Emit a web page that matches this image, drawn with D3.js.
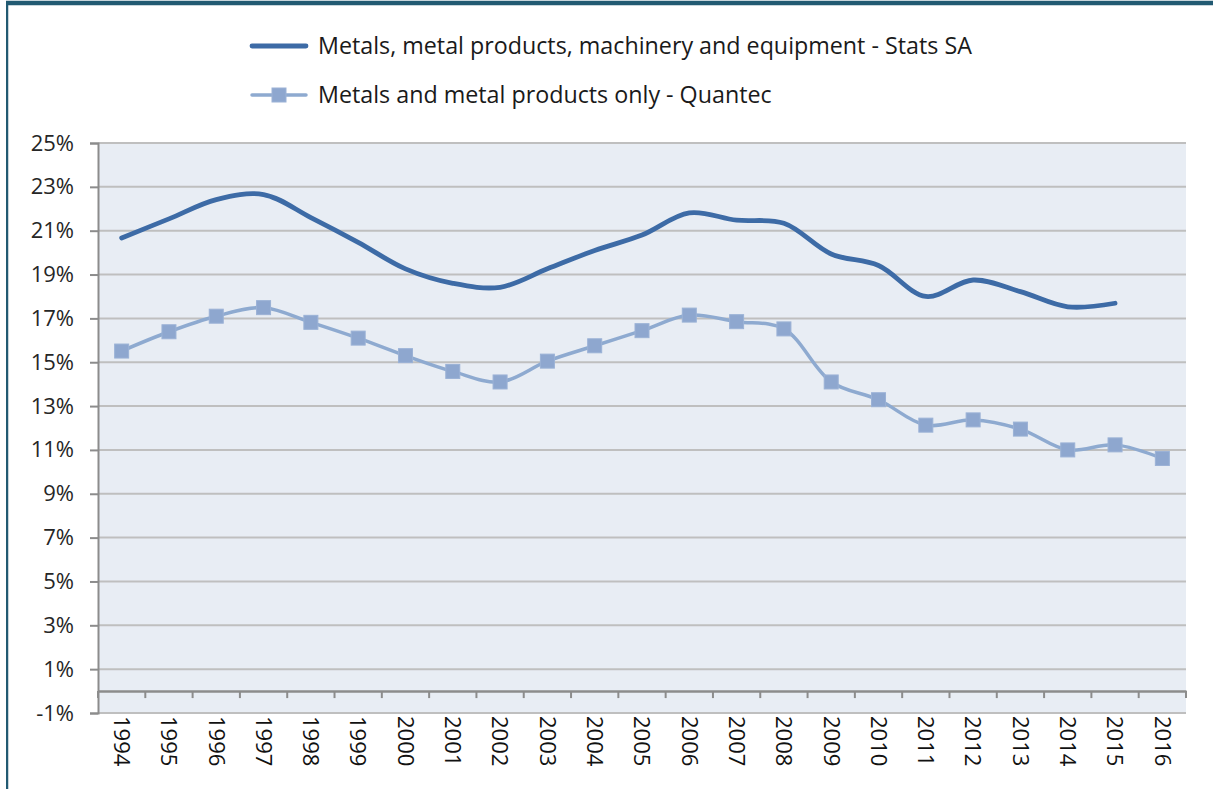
<!DOCTYPE html>
<html>
<head>
<meta charset="utf-8">
<script src="https://cdn.jsdelivr.net/npm/d3@7"></script>
<style>
  html, body { margin: 0; padding: 0; background: #ffffff; }
  svg { display: block; font-family: "Open Sans", "Liberation Sans", sans-serif; }
</style>
</head>
<body>
<svg id="chart" width="1213" height="789"></svg>
<script>
// ---- data ----
const years = ["1994","1995","1996","1997","1998","1999","2000","2001","2002","2003","2004","2005","2006","2007","2008","2009","2010","2011","2012","2013","2014","2015","2016"];
const statsSA = [20.67, 21.54, 22.42, 22.65, 21.6, 20.47, 19.26, 18.6, 18.42, 19.26, 20.1, 20.8, 21.81, 21.48, 21.34, 19.94, 19.41, 18.0, 18.75, 18.22, 17.53, 17.69, null];
const quantec = [15.51, 16.39, 17.1, 17.49, 16.82, 16.1, 15.3, 14.58, 14.1, 15.05, 15.75, 16.44, 17.15, 16.85, 16.52, 14.1, 13.29, 12.13, 12.37, 11.95, 11.0, 11.23, 10.61];
const yTicks = [-1, 1, 3, 5, 7, 9, 11, 13, 15, 17, 19, 21, 23, 25];
const seriesNames = ["Metals, metal products, machinery and equipment - Stats SA", "Metals and metal products only - Quantec"];

const svg = d3.select("#chart");
const plot = {left: 98, right: 1186, top: 143, bottom: 713};

const x = d3.scaleBand().domain(years).range([plot.left, plot.right]).paddingInner(0).paddingOuter(0);
const y = d3.scaleLinear().domain([-1, 25]).range([plot.bottom, plot.top]);
const cx = d => x(d) + x.bandwidth() / 2;

// frame
svg.append("rect").attr("x", 6).attr("y", 3).attr("width", 1213).attr("height", 800)
  .attr("fill", "none").attr("stroke", "#225a72").attr("stroke-width", 4.5);
svg.append("rect").attr("x", 0).attr("y", 0).attr("width", 6).attr("height", 789).attr("fill", "#fff");

// plot background
svg.append("rect").attr("x", plot.left).attr("y", plot.top)
  .attr("width", plot.right - plot.left).attr("height", plot.bottom - plot.top)
  .attr("fill", "#e8edf4");

// gridlines
svg.append("g").selectAll("line").data(yTicks).join("line")
  .attr("x1", plot.left).attr("x2", plot.right)
  .attr("y1", d => y(d)).attr("y2", d => y(d))
  .attr("stroke", "#bfbfbf").attr("stroke-width", 2);

// y axis
const yAxis = d3.axisLeft(y).tickValues(yTicks).tickSize(8).tickPadding(16).tickFormat(d => d + "%");
const gy = svg.append("g").attr("transform", `translate(${plot.left},0)`).call(yAxis);
gy.select(".domain").attr("stroke", "#8c8c8c").attr("stroke-width", 2);
gy.selectAll(".tick line").attr("stroke", "#8c8c8c").attr("stroke-width", 2);
gy.selectAll(".tick text").attr("font-size", 22).attr("fill", "#262626").attr("font-family", "Open Sans");

// x axis at 0%
const xAxis = d3.axisBottom(x).tickSize(0).tickFormat("");
const gx = svg.append("g").attr("transform", `translate(0,${y(0)})`).call(xAxis);
gx.select(".domain").attr("stroke", "#8c8c8c").attr("stroke-width", 2.5);
// boundary ticks
const bounds = years.map(d => x(d)).concat([plot.right]);
svg.append("g").selectAll("line").data(bounds).join("line")
  .attr("x1", d => d).attr("x2", d => d)
  .attr("y1", y(0)).attr("y2", y(0) + 7)
  .attr("stroke", "#8c8c8c").attr("stroke-width", 2);

// x labels (rotated clockwise)
svg.append("g").selectAll("text").data(years).join("text")
  .attr("transform", d => `translate(${cx(d)},${plot.bottom + 3}) rotate(90)`)
  .attr("dy", "0.35em")
  .attr("text-anchor", "start")
  .attr("font-size", 22).attr("fill", "#111")
  .text(d => d);

// lines
const line = d3.line()
  .defined(d => d.v != null)
  .x(d => cx(d.year)).y(d => y(d.v))
  .curve(d3.curveCatmullRom.alpha(0.5));

const s1 = years.map((yr, i) => ({year: yr, v: statsSA[i]}));
const s2 = years.map((yr, i) => ({year: yr, v: quantec[i]}));

svg.append("path").datum(s2).attr("d", line)
  .attr("fill", "none").attr("stroke", "#8eaad0").attr("stroke-width", 3.5);
svg.append("g").selectAll("rect").data(s2).join("rect")
  .attr("x", d => cx(d.year) - 7).attr("y", d => y(d.v) - 7)
  .attr("width", 14).attr("height", 14)
  .attr("fill", "#8ea7cf").attr("stroke", "#9bb2d6").attr("stroke-width", 1);

svg.append("path").datum(s1).attr("d", line)
  .attr("fill", "none").attr("stroke", "#3d6ba6").attr("stroke-width", 4.8)
  .attr("stroke-linecap", "round");

// legend
const leg = svg.append("g");
leg.append("line").attr("x1", 252).attr("x2", 306).attr("y1", 46).attr("y2", 46)
  .attr("stroke", "#3d6ba6").attr("stroke-width", 4.8).attr("stroke-linecap", "round");
leg.append("line").attr("x1", 252).attr("x2", 306).attr("y1", 95).attr("y2", 95)
  .attr("stroke", "#8eaad0").attr("stroke-width", 3.5).attr("stroke-linecap", "round");
leg.append("rect").attr("x", 272).attr("y", 88).attr("width", 14).attr("height", 14)
  .attr("fill", "#8ea7cf").attr("stroke", "#9bb2d6");
const lt = leg.selectAll("text").data(seriesNames).join("text")
  .attr("x", 318).attr("y", (d, i) => 46 + i * 49)
  .attr("dy", "0.35em").attr("font-size", 20).attr("fill", "#1a1a1a")
  .text(d => d);
// fit legend font size to the reference width of the first entry
const w0 = lt.nodes()[0].getComputedTextLength();
const fs = 20 * 654 / w0;
lt.attr("font-size", fs);
</script>
</body>
</html>
